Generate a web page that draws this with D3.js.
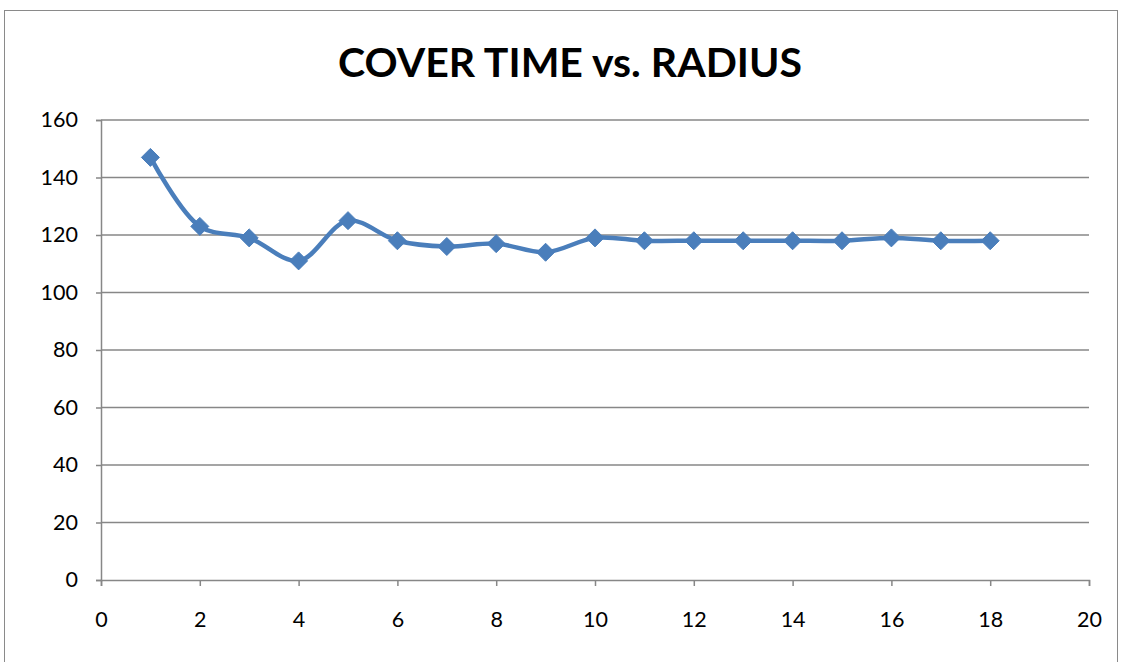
<!DOCTYPE html>
<html><head><meta charset="utf-8">
<script src="https://cdn.jsdelivr.net/npm/d3@7"></script>
<style>body{margin:0;background:#fff;}svg{display:block;}</style>
</head><body>
<script>
const radius = [1,2,3,4,5,6,7,8,9,10,11,12,13,14,15,16,17,18];
const coverTime = [147,123,119,111,125,118,116,117,114,119,118,118,118,118,118,119,118,118];
const xTicks = [0,2,4,6,8,10,12,14,16,18,20];
const yTicks = [0,20,40,60,80,100,120,140,160];
const title = "COVER TIME vs. RADIUS";

const W = 1125, H = 662;
const svg = d3.select("body").append("svg").attr("width", W).attr("height", H);
svg.append("rect").attr("x",4.5).attr("y",10.5).attr("width",1113).attr("height",700)
  .attr("fill","#fff").attr("stroke","#8a8a8a").attr("stroke-width",1);

const font = "Lato, 'Open Sans', sans-serif";
const x = d3.scaleLinear().domain([0,20]).range([101,1089]);
const y = d3.scaleLinear().domain([0,160]).range([580,120]);

svg.append("text").attr("x",570).attr("y",77).attr("text-anchor","middle")
  .attr("font-family",font).attr("font-weight","bold").attr("font-size",41)
  .attr("fill","#000").text(title);

// gridlines
svg.append("g").selectAll("line").data(yTicks.filter(d=>d>0)).join("line")
  .attr("x1",x(0)).attr("x2",x(20)).attr("y1",d=>y(d)).attr("y2",d=>y(d))
  .attr("stroke","#878787").attr("stroke-width",1.5);

const yAxis = svg.append("g").attr("transform",`translate(${x(0)},0)`)
  .call(d3.axisLeft(y).tickValues(yTicks).tickSize(5).tickPadding(18));
const xAxis = svg.append("g").attr("transform",`translate(0,${y(0)})`)
  .call(d3.axisBottom(x).tickValues(xTicks).tickSize(6).tickPadding(26));
[yAxis,xAxis].forEach(g=>{
  g.select(".domain").attr("stroke","#878787").attr("stroke-width",1.5);
  g.selectAll(".tick line").attr("stroke","#878787").attr("stroke-width",1.5);
  g.selectAll("text").attr("font-family",font).attr("font-size",21.5).attr("fill","#000");
});

const data = radius.map((r,i)=>({r, v: coverTime[i]}));
const line = d3.line().x(d=>x(d.r)).y(d=>y(d.v)).curve(d3.curveCatmullRom.alpha(0.5));
svg.append("path").datum(data).attr("d",line).attr("fill","none")
  .attr("stroke","#4A7EBB").attr("stroke-width",4.5).attr("stroke-linejoin","round");

const s = 9;
svg.append("g").selectAll("path").data(data).join("path")
  .attr("transform",d=>`translate(${x(d.r)},${y(d.v)})`)
  .attr("d",`M0,${-s}L${s},0L0,${s}L${-s},0Z`)
  .attr("fill","#4A7EBB").attr("stroke","#4A7EBB").attr("stroke-width",1);
</script>
</body></html>
